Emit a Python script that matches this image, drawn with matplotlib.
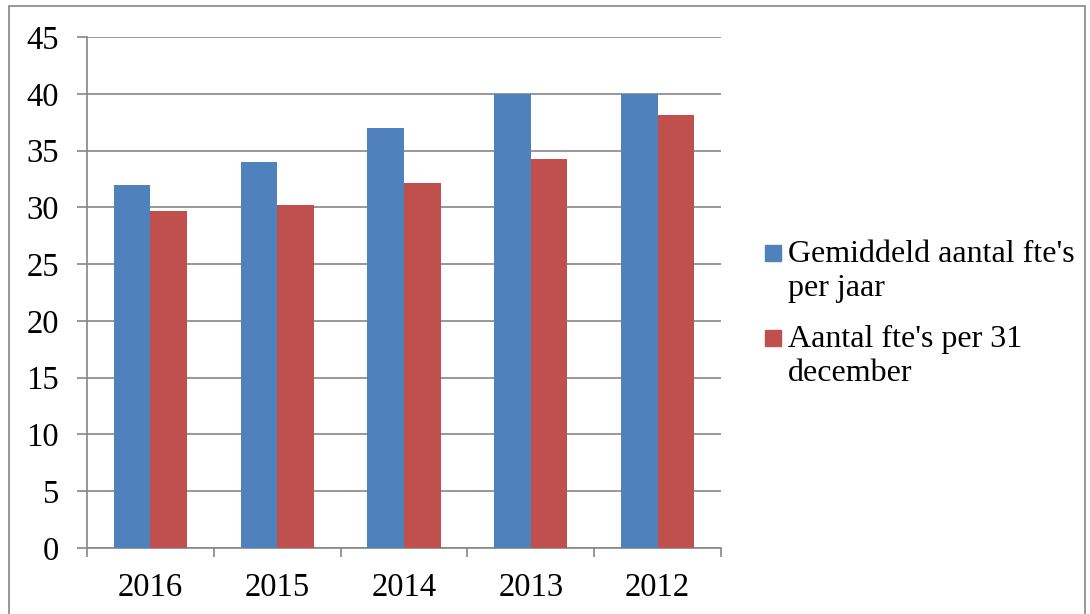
import matplotlib.pyplot as plt
import numpy as np
from matplotlib.patches import Rectangle

years = ["2016", "2015", "2014", "2013", "2012"]
gemiddeld = [32, 34, 37, 40, 40]
per_31_dec = [29.7, 30.2, 32.1, 34.3, 38.1]
labels = ["Gemiddeld aantal fte's\nper jaar", "Aantal fte's per 31\ndecember"]
colors = ["#4f81bd", "#c0504d"]

plt.rcParams['font.family'] = ['Liberation Serif', 'DejaVu Serif']

W, H = 1090, 614
fig = plt.figure(figsize=(W / 100, H / 100), dpi=100)
ax = fig.add_axes([87 / W, 1 - 548 / H, (721 - 87) / W, (548 - 37) / H])

# outer chart border
fig.patches.append(Rectangle((9 / W, -0.01), (1085 - 9) / W, 1 - 6 / H + 0.01,
                             transform=fig.transFigure, fill=False,
                             edgecolor="#868686", linewidth=1.2))

x = np.arange(len(years))
w = 0.288
ax.bar(x - w / 2, gemiddeld, w, color=colors[0], label=labels[0], zorder=3)
ax.bar(x + w / 2, per_31_dec, w, color=colors[1], label=labels[1], zorder=3)

ax.set_xlim(-0.5, len(years) - 0.5)
ax.set_ylim(0, 45)
ax.set_yticks(range(0, 50, 5))
ax.yaxis.grid(True, color="#868686", linewidth=1.2, zorder=0)
ax.set_axisbelow(True)

ax.set_xticks(x)
ax.set_xticklabels(years)
ax.set_xticks(np.arange(-0.5, len(years), 1), minor=True)
ax.tick_params(axis='x', which='major', length=0, pad=17.5, labelsize=23.5)
ax.tick_params(axis='x', which='minor', length=6.5, width=1.2, color="#868686", direction='out')
ax.tick_params(axis='y', length=7.2, width=1.2, color="#868686", direction='out', pad=13, labelsize=23.5)

for side in ['top', 'right']:
    ax.spines[side].set_visible(False)
for side in ['left', 'bottom']:
    ax.spines[side].set_color("#868686")
    ax.spines[side].set_linewidth(1.2)

# legend drawn by hand so the square sits on the first line, like Excel
legend_top = [245, 330]  # top of each square, pixels from top
for lab, col, top in zip(labels, colors, legend_top):
    fig.patches.append(Rectangle((765 / W, 1 - (top + 16) / H), 16 / W, 16 / H,
                                 transform=fig.transFigure, color=col))
    # baseline of the last line (two lines, 34 px apart)
    fig.text(788 / W, 1 - (top + 17 + 34) / H, lab, fontsize=23, va='baseline', ha='left',
             linespacing=1.23)

fig.savefig("out.png", dpi=100)
